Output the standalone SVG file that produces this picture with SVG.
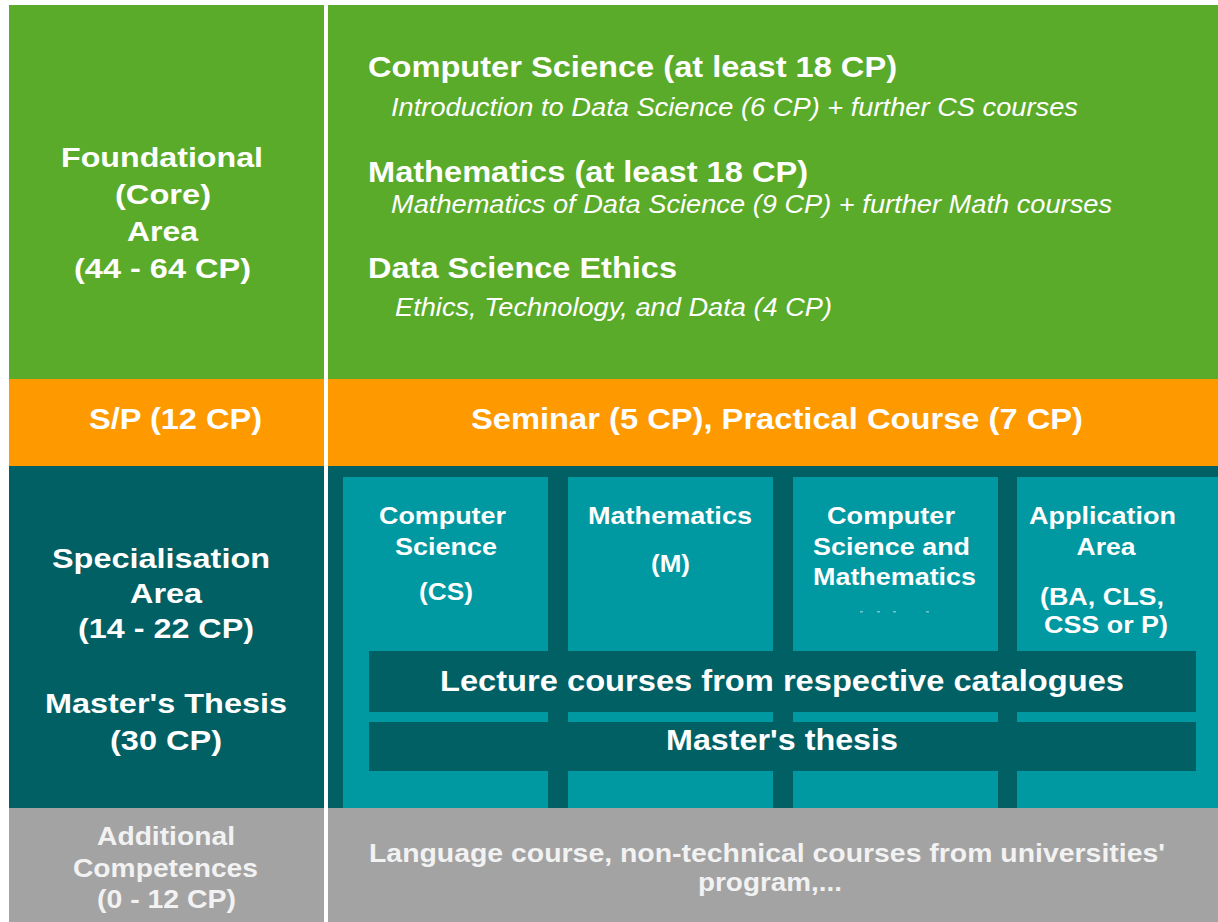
<svg xmlns="http://www.w3.org/2000/svg" width="1218" height="922" viewBox="0 0 1218 922">
<style>
  text { font-family: "Liberation Sans", Arial, sans-serif; fill: #ffffff; }
  .b { font-weight: bold; }
  .it { font-style: italic; font-size: 26px; }
  .h { font-weight: bold; font-size: 30px; }
  .lab { font-weight: bold; font-size: 28px; text-anchor: middle; }
  .col { font-weight: bold; font-size: 24px; text-anchor: middle; }
  .gr { fill: #f2f2f2; }
  .green { fill: #5aab29; }
  .orange { fill: #ff9900; }
  .dark { fill: #006064; }
  .light { fill: #0098a1; }
  .gray { fill: #a3a3a3; }
</style>
<rect x="0" y="0" width="1218" height="922" fill="#ffffff"/>

<g id="foundational">
  <rect class="green" x="9" y="5" width="315" height="374"/>
  <text class="lab" x="162" y="167" textLength="202" lengthAdjust="spacingAndGlyphs">Foundational</text>
  <text class="lab" x="163" y="204" textLength="96" lengthAdjust="spacingAndGlyphs">(Core)</text>
  <text class="lab" x="162.5" y="241" textLength="71" lengthAdjust="spacingAndGlyphs">Area</text>
  <text class="lab" x="162.5" y="278" textLength="177" lengthAdjust="spacingAndGlyphs">(44 - 64 CP)</text>
</g>

<g id="foundational-content">
  <rect class="green" x="328" y="5" width="890" height="374"/>
  <text class="h" x="368" y="77" textLength="529" lengthAdjust="spacingAndGlyphs">Computer Science (at least 18 CP)</text>
  <text class="it" x="391" y="116" textLength="687" lengthAdjust="spacingAndGlyphs">Introduction to Data Science (6 CP) + further CS courses</text>
  <text class="h" x="368" y="182" textLength="440" lengthAdjust="spacingAndGlyphs">Mathematics (at least 18 CP)</text>
  <text class="it" x="391" y="213" textLength="721" lengthAdjust="spacingAndGlyphs">Mathematics of Data Science (9 CP) + further Math courses</text>
  <text class="h" x="368" y="278" textLength="309" lengthAdjust="spacingAndGlyphs">Data Science Ethics</text>
  <text class="it" x="395" y="316" textLength="437" lengthAdjust="spacingAndGlyphs">Ethics, Technology, and Data (4 CP)</text>
</g>

<g id="sp">
  <rect class="orange" x="9" y="379" width="315" height="87"/>
  <text class="b" x="175.5" y="429" font-size="30" text-anchor="middle" textLength="173" lengthAdjust="spacingAndGlyphs">S/P (12 CP)</text>
</g>

<g id="sp-content">
  <rect class="orange" x="328" y="379" width="890" height="87"/>
  <text class="b" x="777" y="429" font-size="30" text-anchor="middle" textLength="612" lengthAdjust="spacingAndGlyphs">Seminar (5 CP), Practical Course (7 CP)</text>
</g>

<g id="specialisation">
  <rect class="dark" x="9" y="466" width="315" height="342"/>
  <text class="lab" x="161" y="568" textLength="218" lengthAdjust="spacingAndGlyphs">Specialisation</text>
  <text class="lab" x="166" y="603" textLength="72" lengthAdjust="spacingAndGlyphs">Area</text>
  <text class="lab" x="166" y="638" textLength="176" lengthAdjust="spacingAndGlyphs">(14 - 22 CP)</text>
  <text class="lab" x="166" y="713" textLength="242" lengthAdjust="spacingAndGlyphs">Master's Thesis</text>
  <text class="lab" x="166" y="750" textLength="112" lengthAdjust="spacingAndGlyphs">(30 CP)</text>
</g>

<g id="specialisation-content">
  <rect class="dark" x="328" y="466" width="890" height="342"/>
  <g id="col-cs">
    <rect class="light" x="343" y="477" width="205" height="331"/>
    <text class="col" x="442.5" y="524" textLength="127" lengthAdjust="spacingAndGlyphs">Computer</text>
    <text class="col" x="446" y="555" textLength="102" lengthAdjust="spacingAndGlyphs">Science</text>
    <text class="col" x="446" y="600" textLength="54" lengthAdjust="spacingAndGlyphs">(CS)</text>
  </g>
  <g id="col-m">
    <rect class="light" x="568" y="477" width="205" height="331"/>
    <text class="col" x="670" y="524" textLength="164" lengthAdjust="spacingAndGlyphs">Mathematics</text>
    <text class="col" x="670.5" y="572" textLength="39" lengthAdjust="spacingAndGlyphs">(M)</text>
  </g>
  <g id="col-csm">
    <rect class="light" x="793" y="477" width="205" height="331"/>
    <text class="col" x="891" y="524" textLength="128" lengthAdjust="spacingAndGlyphs">Computer</text>
    <text class="col" x="891.5" y="555" textLength="157" lengthAdjust="spacingAndGlyphs">Science and</text>
    <text class="col" x="894.5" y="585" textLength="163" lengthAdjust="spacingAndGlyphs">Mathematics</text>
    <g fill="#ffffff" opacity="0.45">
      <rect x="860" y="611" width="3" height="1.5"/>
      <rect x="877" y="611" width="3" height="1.5"/>
      <rect x="893" y="611" width="3" height="1.5"/>
      <rect x="926" y="611" width="3" height="1.5"/>
    </g>
  </g>
  <g id="col-app">
    <rect class="light" x="1017" y="477" width="201" height="331"/>
    <text class="col" x="1102.5" y="524" textLength="147" lengthAdjust="spacingAndGlyphs">Application</text>
    <text class="col" x="1106" y="555" textLength="59" lengthAdjust="spacingAndGlyphs">Area</text>
    <text class="col" x="1102" y="605" textLength="124" lengthAdjust="spacingAndGlyphs">(BA, CLS,</text>
    <text class="col" x="1106" y="633" textLength="124" lengthAdjust="spacingAndGlyphs">CSS or P)</text>
  </g>
  <g id="lecture-bar">
    <rect class="dark" x="369" y="651" width="827" height="61"/>
    <text class="b" x="782" y="691" font-size="30" text-anchor="middle" textLength="684" lengthAdjust="spacingAndGlyphs">Lecture courses from respective catalogues</text>
  </g>
  <g id="thesis-bar">
    <rect class="dark" x="369" y="722" width="827" height="49"/>
    <text class="b" x="782" y="750" font-size="30" text-anchor="middle" textLength="232" lengthAdjust="spacingAndGlyphs">Master's thesis</text>
  </g>
</g>

<g id="additional">
  <rect class="gray" x="9" y="808" width="315" height="114"/>
  <text class="b gr" x="166" y="845" font-size="25" text-anchor="middle" textLength="138" lengthAdjust="spacingAndGlyphs">Additional</text>
  <text class="b gr" x="165.5" y="877" font-size="25" text-anchor="middle" textLength="185" lengthAdjust="spacingAndGlyphs">Competences</text>
  <text class="b gr" x="166.5" y="908" font-size="25" text-anchor="middle" textLength="139" lengthAdjust="spacingAndGlyphs">(0 - 12 CP)</text>
</g>

<g id="additional-content">
  <rect class="gray" x="328" y="808" width="890" height="114"/>
  <text class="b gr" x="767" y="862" font-size="25" text-anchor="middle" textLength="796" lengthAdjust="spacingAndGlyphs">Language course, non-technical courses from universities'</text>
  <text class="b gr" x="770" y="891" font-size="25" text-anchor="middle" textLength="144" lengthAdjust="spacingAndGlyphs">program,...</text>
</g>
</svg>
